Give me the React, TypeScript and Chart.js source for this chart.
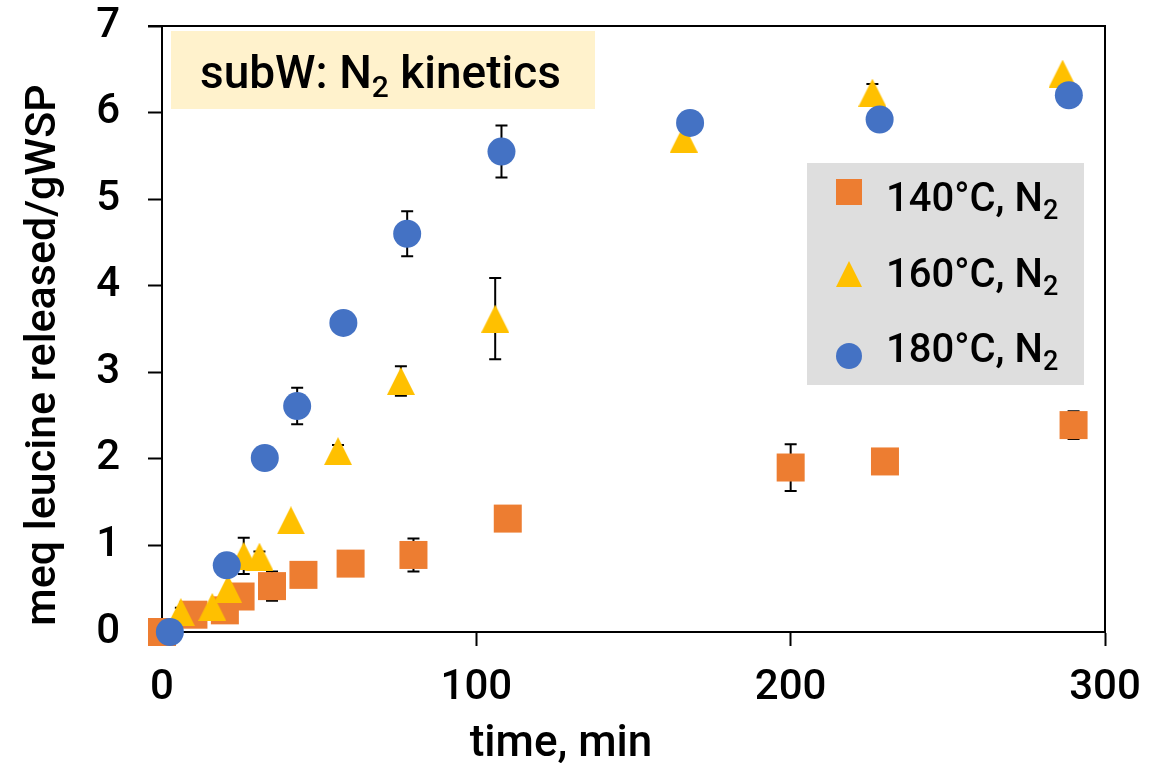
import React, { useEffect, useRef } from 'react';
import { Chart, registerables } from 'chart.js';

Chart.register(...registerables);

const FONT = 'Roboto';
const WEIGHT = '500';

const chartTitle = 'subW: N';
const chartTitleSub = '2';
const chartTitleTail = ' kinetics';
const xAxisTitle = 'time, min';
const yAxisTitle = 'meq leucine released/gWSP';

const seriesNames = ['140°C, N', '160°C, N', '180°C, N'];
const seriesSub = '2';
const seriesColors = ['#ED7D31', '#FFC000', '#4472C4'];

const time140 = [0, 10, 20, 25, 35, 45, 60, 80, 110, 200, 230, 290];
const leu140 = [0, 0.2, 0.25, 0.41, 0.53, 0.66, 0.79, 0.89, 1.31, 1.9, 1.97, 2.39];
const err140 = [0, 0, 0, 0, 0.17, 0, 0, 0.19, 0, 0.27, 0, 0.16];

const time160 = [6, 16, 21, 26, 31, 41, 56, 76, 106, 166, 226, 286.5];
const leu160 = [0.23, 0.29, 0.5, 0.88, 0.87, 1.29, 2.09, 2.9, 3.62, 5.7, 6.23, 6.45];
const err160 = [0.05, 0, 0, 0.21, 0.06, 0, 0.07, 0.17, 0.47, 0, 0.1, 0];

const time180 = [2.5, 20.6, 32.7, 43, 57.7, 78, 108, 168, 228.3, 288.5];
const leu180 = [0, 0.77, 2.01, 2.61, 3.57, 4.6, 5.55, 5.88, 5.92, 6.2];
const err180 = [0, 0, 0, 0.21, 0, 0.26, 0.3, 0, 0, 0];

const xMin = 0, xMax = 300, xStep = 100;
const yMin = 0, yMax = 7, yStep = 1;

const times = [time140, time160, time180];
const values = [leu140, leu160, leu180];
const errors = [err140, err160, err180];

function makeTriangle(size: number, color: string) {
  const c = document.createElement('canvas');
  c.width = size;
  c.height = size;
  const g = c.getContext('2d')!;
  g.fillStyle = color;
  g.beginPath();
  g.moveTo(size / 2, 0);
  g.lineTo(size, size);
  g.lineTo(0, size);
  g.closePath();
  g.fill();
  return c;
}

function drawSubText(ctx: CanvasRenderingContext2D, x: number, baseline: number, main: string, sub: string, tail: string, size: number, subSize: number, subDrop: number) {
  ctx.textAlign = 'left';
  ctx.textBaseline = 'alphabetic';
  ctx.font = `${WEIGHT} ${size}px ${FONT}`;
  ctx.fillText(main, x, baseline);
  let cx = x + ctx.measureText(main).width;
  ctx.font = `${WEIGHT} ${subSize}px ${FONT}`;
  ctx.fillText(sub, cx, baseline + subDrop);
  cx += ctx.measureText(sub).width;
  if (tail) {
    ctx.font = `${WEIGHT} ${size}px ${FONT}`;
    ctx.fillText(tail, cx, baseline);
  }
}

const overlay = {
  id: 'overlay',
  beforeDatasetsDraw(chart: any) {
    const { ctx, chartArea: a, scales } = chart;
    const xs = scales.x, ys = scales.y;
    ctx.save();
    // title box
    ctx.fillStyle = '#FFF2CC';
    ctx.fillRect(a.left + 9, a.top + 5, 424, 78);
    ctx.fillStyle = '#000';
    drawSubText(ctx, a.left + 38, a.top + 62, chartTitle, chartTitleSub, chartTitleTail, 46, 30, 9);
    // top and right border
    ctx.strokeStyle = '#000';
    ctx.lineWidth = 2;
    ctx.beginPath();
    ctx.moveTo(a.left - 14, a.top);
    ctx.lineTo(a.right, a.top);
    ctx.lineTo(a.right, a.bottom);
    ctx.stroke();
    // error bars
    ctx.lineWidth = 2;
    for (let s = 0; s < 3; s++) {
      for (let i = 0; i < times[s].length; i++) {
        const e = errors[s][i];
        if (!e) continue;
        const px = xs.getPixelForValue(times[s][i]);
        const top = ys.getPixelForValue(values[s][i] + e);
        const bot = ys.getPixelForValue(values[s][i] - e);
        ctx.beginPath();
        ctx.moveTo(px, top);
        ctx.lineTo(px, bot);
        ctx.moveTo(px - 6, top);
        ctx.lineTo(px + 6, top);
        ctx.moveTo(px - 6, bot);
        ctx.lineTo(px + 6, bot);
        ctx.stroke();
      }
    }
    ctx.restore();
  },
  afterDraw(chart: any) {
    const { ctx, chartArea: a } = chart;
    ctx.save();
    // legend
    const lx = a.left + 645, ly = a.top + 137;
    ctx.fillStyle = '#DEDEDE';
    ctx.fillRect(lx, ly, 277, 222);
    const rows = [192, 274, 356];
    const textBase = [211, 287, 362];
    for (let s = 0; s < 3; s++) {
      const cy = rows[s];
      const mx = 849;
      ctx.fillStyle = seriesColors[s];
      ctx.beginPath();
      if (s === 0) {
        ctx.rect(mx - 13, cy - 13, 26, 26);
      } else if (s === 1) {
        ctx.moveTo(mx, cy - 13);
        ctx.lineTo(mx + 13, cy + 13);
        ctx.lineTo(mx - 13, cy + 13);
        ctx.closePath();
      } else {
        ctx.arc(mx, cy, 13, 0, Math.PI * 2);
      }
      ctx.fill();
      ctx.fillStyle = '#000';
      drawSubText(ctx, 886, textBase[s], seriesNames[s], seriesSub, '', 40, 27, 8);
    }
    // axis titles
    ctx.fillStyle = '#000';
    ctx.textAlign = 'center';
    ctx.textBaseline = 'alphabetic';
    ctx.font = `${WEIGHT} 44px ${FONT}`;
    ctx.fillText(xAxisTitle, 561, 756);
    ctx.font = `${WEIGHT} 43px ${FONT}`;
    ctx.translate(55, 355);
    ctx.rotate(-Math.PI / 2);
    ctx.fillText(yAxisTitle, 0, 0);
    ctx.restore();
  },
};

export default function App() {
  const ref = useRef<HTMLCanvasElement>(null);
  useEffect(() => {
    document.body.style.margin = '0';
    const tri = makeTriangle(28, seriesColors[1]);
    const pointStyles: any[] = ['rect', tri, 'circle'];
    const radii = [19.8, 14, 14];
    const datasets = [0, 1, 2].map((s) => ({
      label: seriesNames[s] + seriesSub,
      data: times[s].map((t, i) => ({ x: t, y: values[s][i] })),
      backgroundColor: seriesColors[s],
      borderColor: seriesColors[s],
      borderWidth: 0,
      pointStyle: pointStyles[s],
      pointRadius: radii[s],
      pointHoverRadius: radii[s],
      pointBorderWidth: 0,
      showLine: false,
      clip: false as any,
      order: 3 - s,
    }));
    const tickFont = { family: FONT, size: 42, weight: WEIGHT as any };
    const zeroPad = (s: any) => {
      s.paddingTop = 0;
      s.paddingBottom = 0;
      s.paddingLeft = 0;
      s.paddingRight = 0;
    };
    const chart = new Chart(ref.current!, {
      type: 'scatter',
      data: { datasets },
      options: {
        animation: false,
        responsive: false,
        events: [],
        layout: { padding: { left: 0, top: 26, right: 60, bottom: 0 } },
        plugins: { legend: { display: false }, tooltip: { enabled: false }, title: { display: false } },
        scales: {
          x: {
            type: 'linear',
            min: xMin,
            max: xMax,
            ticks: { stepSize: xStep, color: '#000', font: tickFont, padding: 17 },
            grid: { drawOnChartArea: false, drawTicks: true, tickLength: 14, tickColor: '#000', tickWidth: 2 },
            border: { color: '#000', width: 2 },
            afterFit: (s: any) => { s.height = 131; zeroPad(s); },
          },
          y: {
            type: 'linear',
            min: yMin,
            max: yMax,
            ticks: { stepSize: yStep, color: '#000', font: tickFont, padding: 28 },
            grid: { drawOnChartArea: false, drawTicks: true, tickLength: 14, tickColor: '#000', tickWidth: 2 },
            border: { color: '#000', width: 2 },
            afterFit: (s: any) => { s.width = 162; zeroPad(s); },
          },
        },
      },
      plugins: [overlay],
    });
    return () => chart.destroy();
  }, []);
  return (
    <div style={{ width: 1165, height: 763, background: '#fff' }}>
      <canvas ref={ref} width={1165} height={763} />
    </div>
  );
}
